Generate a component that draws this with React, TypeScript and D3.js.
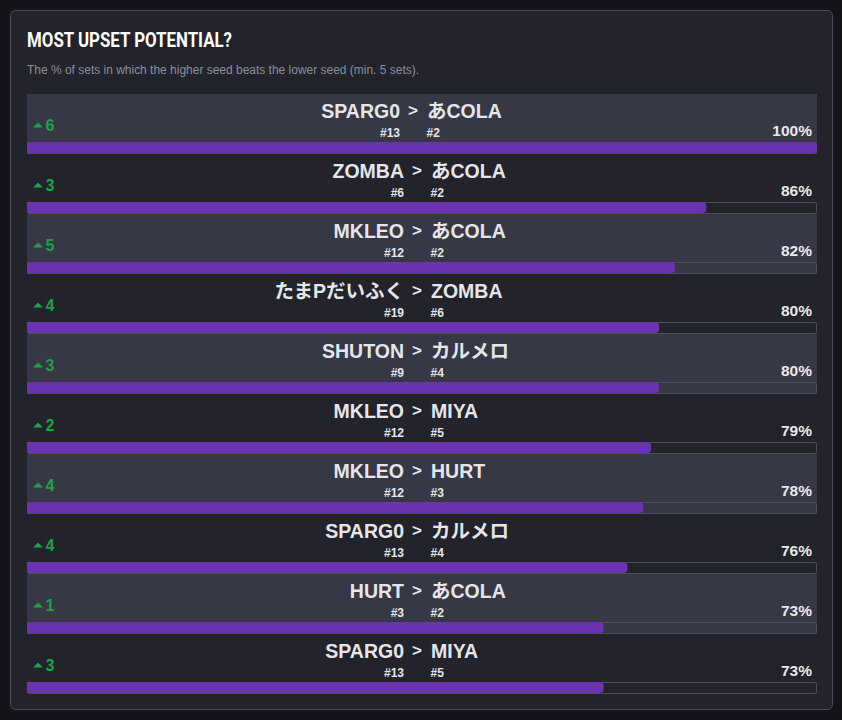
import React from "react";
import * as d3 from "d3";

const winners = ["SPARG0", "ZOMBA", "MKLEO", "たまPだいふく", "SHUTON", "MKLEO", "MKLEO", "SPARG0", "HURT", "SPARG0"];
const losers = ["あCOLA", "あCOLA", "あCOLA", "ZOMBA", "カルメロ", "MIYA", "HURT", "カルメロ", "あCOLA", "MIYA"];
const winnerSeeds = [13, 6, 12, 19, 9, 12, 12, 13, 3, 13];
const loserSeeds = [2, 2, 2, 6, 4, 5, 3, 4, 2, 5];
const upsetPcts = [100, 86, 82, 80, 80, 79, 78, 76, 73, 73];
const seedGaps = [6, 3, 5, 4, 3, 2, 4, 4, 1, 3];

const W = 842;
const H = 720;
const FONT = "'Liberation Sans', Arial, 'Noto Sans CJK JP', sans-serif";

export default function App() {
  const x = d3.scaleLinear().domain([0, 100]).range([27, 817]);
  const y = d3
    .scaleBand<number>()
    .domain(d3.range(upsetPcts.length))
    .range([94, 694]);
  const bh = y.bandwidth();

  return (
    <svg
      width={W}
      height={H}
      style={{ position: "absolute", left: 0, top: 0, display: "block" }}
    >
      <rect x={0} y={0} width={W} height={H} fill="#141419" />
      <rect x={10.5} y={10.5} width={822} height={699} rx={5} fill="#22232b" stroke="#4a4d59" />
      <text
        x={27}
        y={47}
        fontFamily="Roboto, 'Liberation Sans', sans-serif"
        fontWeight={700}
        fontSize={21}
        fill="#ffffff"
        textLength={205}
        lengthAdjust="spacingAndGlyphs"
      >
        MOST UPSET POTENTIAL?
      </text>
      <text x={27} y={74} fontFamily={FONT} fontSize={12} fill="#8b8f9c" textLength={392} lengthAdjust="spacing">
        The % of sets in which the higher seed beats the lower seed (min. 5 sets).
      </text>
      {upsetPcts.map((v, i) => {
        const top = y(i)!;
        const label = `${v}%`;
        const cx = 417 - (label.length - 3) * 4;
        return (
          <g key={i}>
            {i % 2 === 0 && (
              <rect x={27} y={top} width={790} height={bh} fill="#363845" />
            )}
            <rect
              x={27.5}
              y={top + 48.5}
              width={789}
              height={11}
              rx={1.5}
              fill="none"
              stroke="#4b4f5d"
            />
            <path
              d={(() => {
                const x0 = x(0);
                const x1 = x(v);
                const yt = top + 48;
                const yb = top + 59;
                const r = 4;
                return `M${x0},${yt}H${x1 - r}Q${x1},${yt} ${x1},${yt + r}V${yb - r}Q${x1},${yb} ${x1 - r},${yb}H${x0}Z`;
              })()}
              fill="#6c33b0"
            />
            <path
              d={`M33,${top + 33.5}L38,${top + 28.5}L43,${top + 33.5}Z`}
              fill="#21a049"
            />
            <text
              x={45.5}
              y={top + 37}
              fontFamily={FONT}
              fontWeight={700}
              fontSize={16}
              fill="#21a049"
            >
              {seedGaps[i]}
            </text>
            <text
              x={cx - 13}
              y={top + 24}
              textAnchor="end"
              fontFamily={FONT}
              fontWeight={700}
              fontSize={19.5}
              fill="#e6e6ea"
            >
              {winners[i]}
            </text>
            <text
              x={cx}
              y={top + 22}
              textAnchor="middle"
              fontFamily={FONT}
              fontWeight={700}
              fontSize={17}
              fill="#e6e6ea"
            >
              &gt;
            </text>
            <text
              x={cx + 14}
              y={top + 24}
              fontFamily={FONT}
              fontWeight={700}
              fontSize={19.5}
              fill="#e6e6ea"
            >
              {losers[i]}
            </text>
            <text
              x={cx - 13}
              y={top + 43}
              textAnchor="end"
              fontFamily={FONT}
              fontWeight={700}
              fontSize={12}
              fill="#e6e6ea"
            >
              {`#${winnerSeeds[i]}`}
            </text>
            <text
              x={cx + 13.5}
              y={top + 43}
              fontFamily={FONT}
              fontWeight={700}
              fontSize={12}
              fill="#e6e6ea"
            >
              {`#${loserSeeds[i]}`}
            </text>
            <text
              x={812}
              y={top + 41.5}
              textAnchor="end"
              fontFamily={FONT}
              fontWeight={700}
              fontSize={15.5}
              fill="#e8e8ec"
            >
              {label}
            </text>
          </g>
        );
      })}
    </svg>
  );
}
